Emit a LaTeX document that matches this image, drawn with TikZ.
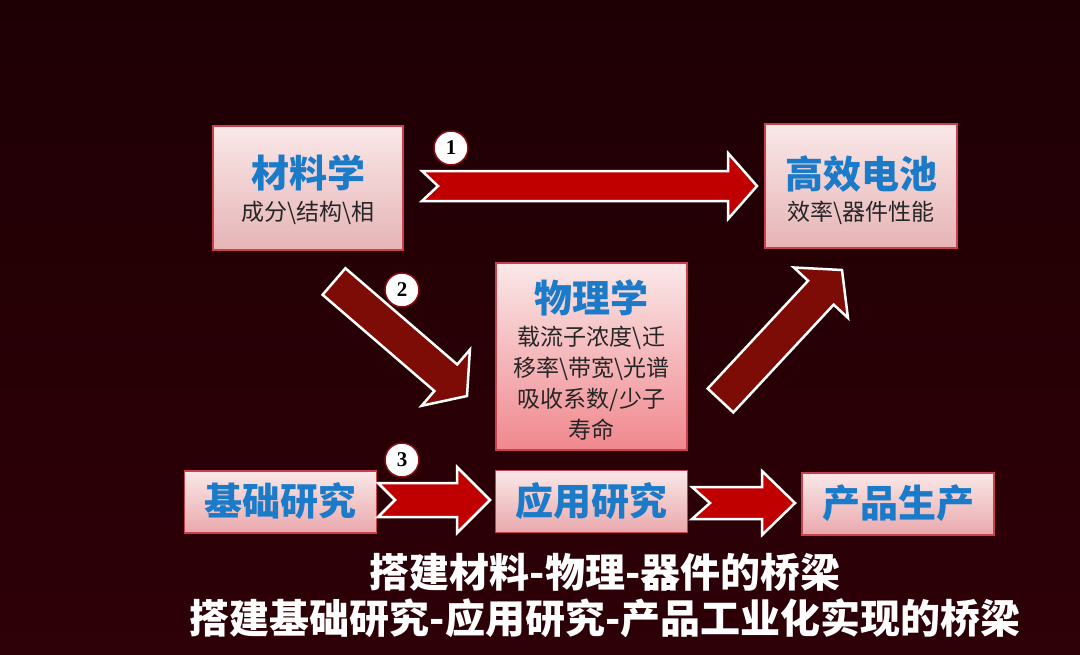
\documentclass[tikz,border=0pt]{standalone}
\usepackage{fontspec}
\setmainfont{Noto Sans CJK SC}
\newfontfamily\numfont{Liberation Serif}
\usetikzlibrary{positioning}
\usetikzlibrary{calc}

\definecolor{bgtop}{HTML}{1E0004}
\definecolor{bgbottom}{HTML}{2E0007}
\definecolor{boxedge}{HTML}{C8414E}
\definecolor{pinktop}{HTML}{FAE8E8}
\definecolor{pinkbottom}{HTML}{E6B4B6}
\definecolor{physbottom}{HTML}{F0888E}
\definecolor{rowbottom}{HTML}{E9A8AC}
\definecolor{titleblue}{HTML}{1B7BC9}
\definecolor{arrowred}{HTML}{C00000}
\definecolor{arrowdark}{HTML}{7D0C06}
\definecolor{ringred}{HTML}{8A0A14}

\tikzstyle{topbox} = [rectangle,draw=boxedge,line width=1.2pt,top color=pinktop,bottom color=pinkbottom,inner sep=0pt]
\tikzstyle{physbox} = [rectangle,draw=boxedge,line width=1.2pt,top color=pinktop,bottom color=physbottom,inner sep=0pt]
\tikzstyle{rowbox} = [rectangle,draw=boxedge,line width=1.2pt,top color=pinktop,bottom color=rowbottom,minimum width=192pt,minimum height=62pt,inner sep=0pt]
\tikzstyle{title} = [text=titleblue,font=\bfseries\fontsize{38}{42}\selectfont,inner sep=0pt]
\tikzstyle{subtitle} = [text=black!85,font=\fontsize{23}{31}\selectfont,align=center,inner sep=0pt]
\tikzstyle{badge} = [circle,draw=ringred,line width=1.5pt,fill=white,minimum size=34pt,inner sep=0pt,font=\numfont\bfseries\fontsize{21}{21}\selectfont]
\tikzstyle{bright arrow} = [draw=white,line width=2.5pt,fill=arrowred,line join=miter]
\tikzstyle{dark arrow} = [draw=white,line width=2.5pt,fill=arrowdark,line join=miter]
\tikzstyle{motto} = [text=white,font=\bfseries\fontsize{40}{46}\selectfont,inner sep=0pt]

% block arrow: style, tail, tip, half shaft, half head, head length, notch
\newcommand{\fatarrow}[7]{%
  \coordinate (fa-base) at ($(#3)!#6!(#2)$);
  \draw[#1] ($(#2)!#4!90:(#3)$) -- ($(fa-base)!#4!90:(#3)$)
    -- ($(fa-base)!#5!90:(#3)$) -- (#3)
    -- ($(fa-base)!#5!-90:(#3)$) -- ($(fa-base)!#4!-90:(#3)$)
    -- ($(#2)!#4!-90:(#3)$) -- ($(#2)!#7!(#3)$) -- cycle;
}

\begin{document}
\begin{tikzpicture}[x=1pt,y=-1pt]

  \useasboundingbox (0,0) rectangle (1080,654);
  \fill[top color=bgtop,bottom color=bgbottom] (0,0) rectangle (1080,654);

  % upper boxes
  \node[topbox,minimum width=190pt,minimum height=124pt] (mat) at (308,188) {};
  \node[topbox,minimum width=192pt,minimum height=124pt] (cell) at (861,186) {};
  \node[physbox,minimum width=191pt,minimum height=187pt] (phys) at (591.5,356.5) {};

  \node[title] (matT) at (308,173) {材料学};
  \node[subtitle] (matS) at (308,213) {成分\textbackslash 结构\textbackslash 相};
  \node[title] (cellT) at (861,174) {高效电池};
  \node[subtitle] (cellS) at (861,213) {效率\textbackslash 器件性能};
  \node[title] (physT) at (591.5,298) {物理学};
  \node[subtitle] (physS) at (591.5,383) {载流子浓度\textbackslash 迁\\移率\textbackslash 带宽\textbackslash 光谱\\吸收系数/少子\\寿命};

  % lower row
  \foreach \pos/\name/\txt in {{(280.5,502)/basic/基础研究}, {(591.5,501.5)/applied/应用研究}, {(898,504)/product/产品生产}}
      \node[rowbox] (\name) at \pos {};
  \foreach \pos/\name/\txt in {{(280.5,501)/basicT/基础研究}, {(591.5,501)/appliedT/应用研究}, {(898,503)/productT/产品生产}}
      \node[title] (\name) at \pos {\txt};

  % arrows
  \coordinate (tail1) at (422,186);   \coordinate (tip1) at (757,186);
  \coordinate (tail2) at (334,281.5); \coordinate (tip2) at (467,396);
  \coordinate (tail3) at (378,500);   \coordinate (tip3) at (490,500);
  \coordinate (tail4) at (720.5,400.5); \coordinate (tip4) at (842,270);
  \coordinate (tail5) at (692,503);   \coordinate (tip5) at (795,503);

  \fatarrow{bright arrow}{tail1}{tip1}{15pt}{33pt}{29pt}{16pt}
  \fatarrow{dark arrow}{tail2}{tip2}{17.5pt}{37pt}{28pt}{0pt}
  \fatarrow{bright arrow}{tail3}{tip3}{17pt}{33pt}{33pt}{17pt}
  \fatarrow{dark arrow}{tail4}{tip4}{17.5pt}{37pt}{31pt}{0pt}
  \fatarrow{bright arrow}{tail5}{tip5}{16pt}{32pt}{33pt}{18pt}

  \foreach \pos/\name/\num in {{(451,148)/one/1}, {(402,290)/two/2}, {(402,460)/three/3}}
      \node[badge] (\name) at \pos {\num};

  % bottom lines
  \node[motto] (line1) at (605,572) {搭建材料-物理-器件的桥梁};
  \node[motto] (line2) at (605,618) {搭建基础研究-应用研究-产品工业化实现的桥梁};

\end{tikzpicture}
\end{document}
